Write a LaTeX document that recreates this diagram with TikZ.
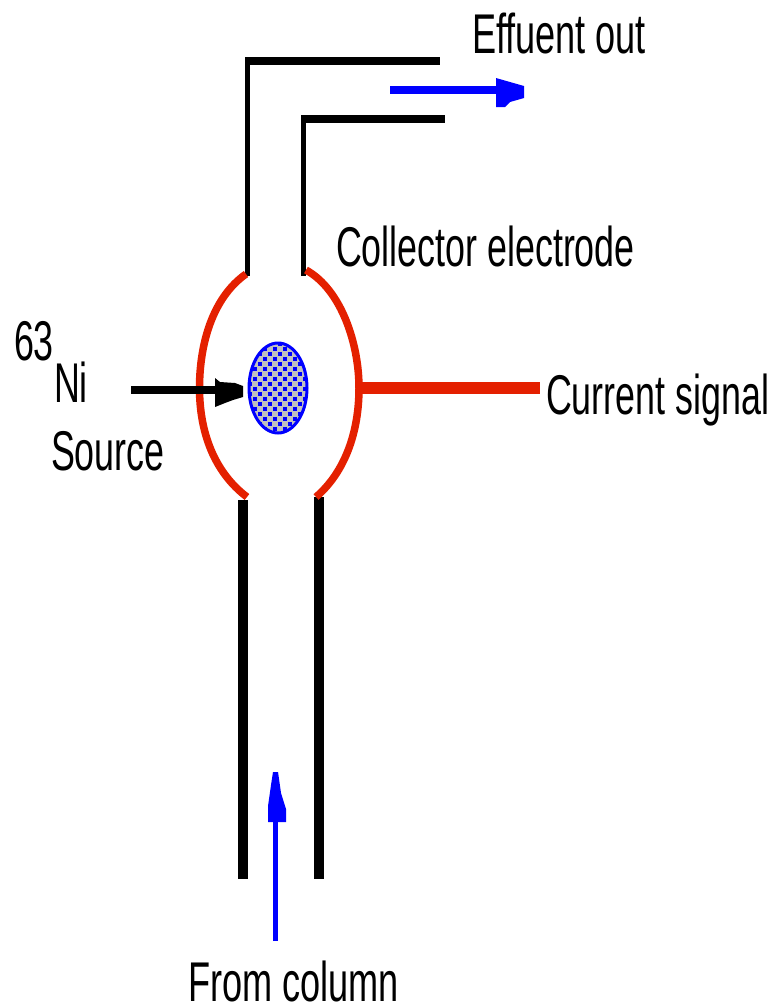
\documentclass[tikz,border=0pt]{standalone}
\usepackage{fontspec}
\setmainfont{Liberation Sans}
\definecolor{elecred}{RGB}{228,32,0}
\definecolor{flowblue}{RGB}{0,0,255}
\definecolor{srcgray}{RGB}{192,192,192}
\tikzset{
  lab/.style={anchor=base west,inner sep=0pt,outer sep=0pt,text=black,transform shape,font=\fontsize{56}{56}\selectfont},
  tubeh/.style={draw=black,line width=8pt},
  tubev/.style={draw=black,line width=5pt},
  stem/.style={draw=black,line width=10pt},
  electrode/.style={draw=elecred,line width=7.5pt},
  signal/.style={draw=elecred,line width=12pt},
  bluearrow/.style={draw=flowblue,line width=8pt},
  uparrow/.style={draw=flowblue,line width=5pt},
  blackarrow/.style={draw=black,line width=8pt},
}
\begin{document}
\begin{tikzpicture}[x=1pt,y=-1pt]
\useasboundingbox (0,0) rectangle (772,1005);
% free ends
\coordinate (t1a) at (247.5,276); \coordinate (t1b) at (247.5,57); \coordinate (t1k) at (245,61); \coordinate (t1c) at (440,61);
\coordinate (t2a) at (303.5,276); \coordinate (t2b) at (303.5,115); \coordinate (t2k) at (301,119); \coordinate (t2c) at (445,119);
\coordinate (s1a) at (243,500); \coordinate (s1b) at (243,879);
\coordinate (s2a) at (319,497); \coordinate (s2b) at (319,879);
\coordinate (sig0) at (360,388); \coordinate (sig1) at (540,388);
\coordinate (ba0) at (390,90); \coordinate (ba1) at (500,90);
\coordinate (ca0) at (275.5,941); \coordinate (ca1) at (275.5,820);
\coordinate (na0) at (131,390); \coordinate (na1) at (220,390);
% tubes
\draw[tubev] (t1a) -- (t1b);
\draw[tubeh] (t1k) -- (t1c);
\draw[tubev] (t2a) -- (t2b);
\draw[tubeh] (t2k) -- (t2c);
\draw[stem] (s1a) -- (s1b);
\draw[stem] (s2a) -- (s2b);
% electrode
\draw[electrode] (246,274) .. controls (212,298) and (199.5,345) .. (199.5,388)
                           .. controls (199.5,432) and (214,472) .. (247,497);
\draw[electrode] (306,270) .. controls (342,290) and (359,345) .. (359,388)
                           .. controls (359,432) and (345,472) .. (316,497);
\draw[signal] (sig0) -- (sig1);
% source
\begin{scope}
  \clip (278,388) ellipse [x radius=30, y radius=46];
  \fill[srcgray] (248,342) rectangle (308,434);
  \foreach \i in {0,...,12}{
    \foreach \j in {0,...,19}{
      \pgfmathparse{int(mod(\i+\j,2))}
      \ifnum\pgfmathresult=0
        \fill[flowblue] ({248+5*\i},{342+5*\j}) rectangle +(4.4,4.4);
      \fi
    }
  }
\end{scope}
\draw[flowblue,line width=3pt] (278,388) ellipse [x radius=29, y radius=45];
% arrows
\draw[blackarrow] (na0) -- (na1);
\fill[black] (215,378) -- (220,382) -- (235,383) -- (243,386) -- (243,397) -- (233,400) -- (225,403) -- (215,407) -- cycle;
\draw[bluearrow] (ba0) -- (ba1);
\fill[flowblue] (496,78) -- (510,82) -- (524,86) -- (524,98) -- (510,102) -- (505,107) -- (496,107) -- cycle;
\draw[uparrow] (ca0) -- (ca1);
\fill[flowblue] (273,772) -- (278,772) -- (281,793) -- (286,809) -- (286,822) -- (268,822) -- (268,806) -- (271,785) -- cycle;
% labels
\node[lab,xscale=.645] (eff) at (472,53) {Effuent out};
\node[lab,xscale=.64] (col) at (336,266) {Collector electrode};
\node[lab,xscale=.64] (cur) at (546,414) {Current signal};
\node[lab,xscale=.64] (src) at (51,470) {Source};
\node[lab,xscale=.64] (ni) at (54,402) {Ni};
\node[lab,xscale=.64] (mass) at (14,360) {63};
\node[lab,xscale=.645] (frm) at (188,1001) {From column};
\end{tikzpicture}
\end{document}
